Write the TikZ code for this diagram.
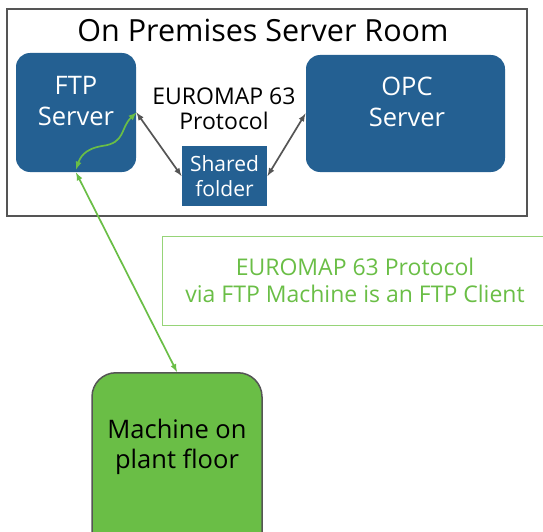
\documentclass[tikz,border=0pt]{standalone}
\usepackage{fontspec}
\setmainfont{Open Sans}
\usepackage{tikz}
\usetikzlibrary{calc}
\definecolor{srvblue}{RGB}{36,96,146}
\definecolor{plantgreen}{RGB}{106,190,70}
\definecolor{notegreen}{RGB}{150,212,120}
\definecolor{roomgray}{RGB}{85,85,85}

\begin{document}
\begin{tikzpicture}[x = 1pt, y = -1pt, line width = 1pt, >=latex,
                        server/.style = {rounded corners = 14pt, fill = srvblue},
                        srvtext/.style = {text = white, align = center, font = \fontsize{25.5}{31}\selectfont},
                        folder/.style = {fill = srvblue, text = white, align = center, font = \fontsize{21}{25}\selectfont},
                        plant/.style = {rounded corners = 24pt, draw = roomgray, line width = 1.5pt, fill = plantgreen},
                        link/.style = {<->, draw = roomgray, line width = 1.7pt},
                        ftplink/.style = {<->, draw = plantgreen, line width = 1.7pt}]
      \useasboundingbox (0, 0) rectangle (543, 532);
      \node [draw = roomgray, line width = 1.8pt, minimum width = 520pt, minimum height = 207pt] (room) at (267, 112.5){};
      \node [font = \fontsize{30.5}{36}\selectfont] (title) at (263, 30){On Premises Server Room};
      \node [server, minimum width = 120pt, minimum height = 119pt] (ftp) at (76, 112.5){};
      \node [srvtext] (ftptext) at (76, 101.5){FTP\\Server};
      \node [server, minimum width = 199pt, minimum height = 117pt] (opc) at (405.5, 113.5){};
      \node [srvtext] (opctext) at (407, 101.5){OPC\\Server};
      \node [folder, minimum width = 85pt, minimum height = 60pt, inner sep = 0pt] (shared) at (224.5, 176){Shared\\folder};
      \node [align = center, font = \fontsize{23}{25}\selectfont] (proto) at (224, 109){EUROMAP 63\\Protocol};
      \node [draw = notegreen, text = plantgreen, minimum width = 386pt, minimum height = 89pt, align = center, font = \fontsize{23}{27}\selectfont] (note) at (355, 280.5){EUROMAP 63 Protocol\\via FTP Machine is an FTP Client};
      \node [plant, minimum width = 170pt, minimum height = 190pt, anchor = north] (machine) at (177, 372){};
      \node [align = center, font = \fontsize{25.5}{30}\selectfont] (mlabel) at (177, 447){Machine on\\plant floor};
      \coordinate (wavyin) at ($(ftp.south) + (0, -3)$);
      \draw [link] (ftp.east) -- (shared.west);
      \draw [link] (shared.east) -- (opc.west);
      \draw [ftplink] (ftp.east) .. controls (120, 128) and (126, 143) .. (102, 146) .. controls (84, 149) and (80, 158) .. (wavyin);
      \draw [ftplink] (ftp.south) -- (machine.north);
    \end{tikzpicture}
\end{document}
